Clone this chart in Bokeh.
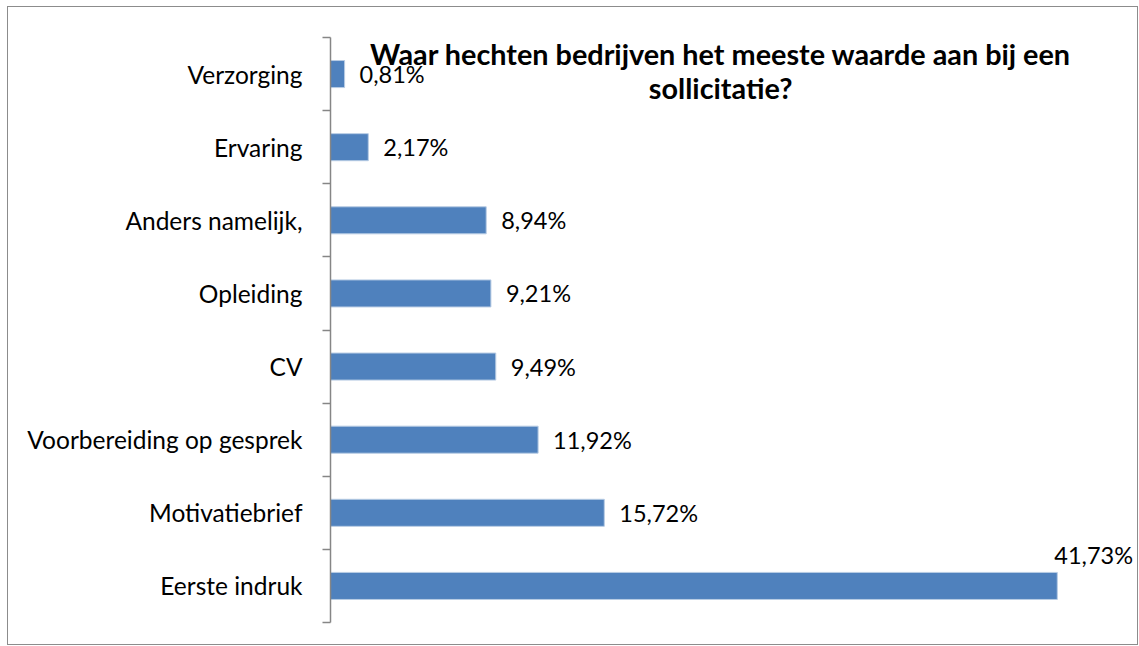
from bokeh.plotting import figure
from bokeh.models import Range1d, FixedTicker, LabelSet, Label, ColumnDataSource
from bokeh.core.properties import value
from bokeh.embed import file_html
from bokeh.resources import INLINE

# Data (bottom to top)
categories = ["Eerste indruk", "Motivatiebrief", "Voorbereiding op gesprek", "CV",
              "Opleiding", "Anders namelijk,", "Ervaring", "Verzorging"]
values = [41.73, 15.72, 11.92, 9.49, 9.21, 8.94, 2.17, 0.81]
value_labels = ["41,73%", "15,72%", "11,92%", "9,49%", "9,21%", "8,94%", "2,17%", "0,81%"]
title_lines = ["Waar hechten bedrijven het meeste waarde aan bij een", "sollicitatie?"]

FONT = "Lato"
n = len(categories)
ypos = list(range(n))
vmax = max(values)

W, H = 1131, 639
p = figure(width=W, height=H, output_backend="svg", toolbar_location=None,
           x_range=Range1d(0, 46.45), y_range=Range1d(-0.5, n - 0.5),
           min_border_left=322, min_border_right=0, min_border_top=30, min_border_bottom=24,
           x_axis_location=None)
p.outline_line_color = None
p.xgrid.visible = False
p.ygrid.visible = False
p.styles = {"border": "1px solid #8c8c8c", "margin": "6px 0 0 7px"}

p.hbar(y=ypos, right=values, left=0, height=0.37, fill_color="#4F81BD",
       line_color="#b8cce4", line_width=1)

yax = p.yaxis[0]
yax.ticker = FixedTicker(ticks=ypos, minor_ticks=[i - 0.5 for i in range(n + 1)])
yax.major_label_overrides = {i: c for i, c in enumerate(categories)}
yax.major_tick_out = 0
yax.major_tick_in = 0
yax.minor_tick_out = 8
yax.minor_tick_in = 0
yax.minor_tick_line_color = "#868686"
yax.minor_tick_line_width = 1.5
yax.axis_line_color = "#868686"
yax.axis_line_width = 1.5
yax.major_label_standoff = 20
yax.major_label_text_font = FONT
yax.major_label_text_font_size = "24.5px"
yax.major_label_text_color = "black"

xoff = [(-3 if v == vmax else 15) for v in values]
yoff = [(31 if v == vmax else 0) for v in values]
src = ColumnDataSource(dict(x=values, y=ypos, t=value_labels, xo=xoff, yo=yoff))
p.add_layout(LabelSet(x="x", y="y", text="t", source=src, x_offset="xo", y_offset="yo",
                      text_font=value(FONT), text_font_size=value("23.5px"), text_color="black",
                      text_baseline="middle", text_align="left"))

for i, line in enumerate(title_lines):
    p.add_layout(Label(x=22.4, y=569 - 34 * i, x_units="data", y_units="screen", text=line,
                       text_font=FONT, text_font_size="28.8px", text_font_style="bold",
                       text_color="black", text_align="center", text_baseline="middle"))

open("out.html", "w").write(file_html(p, INLINE))
